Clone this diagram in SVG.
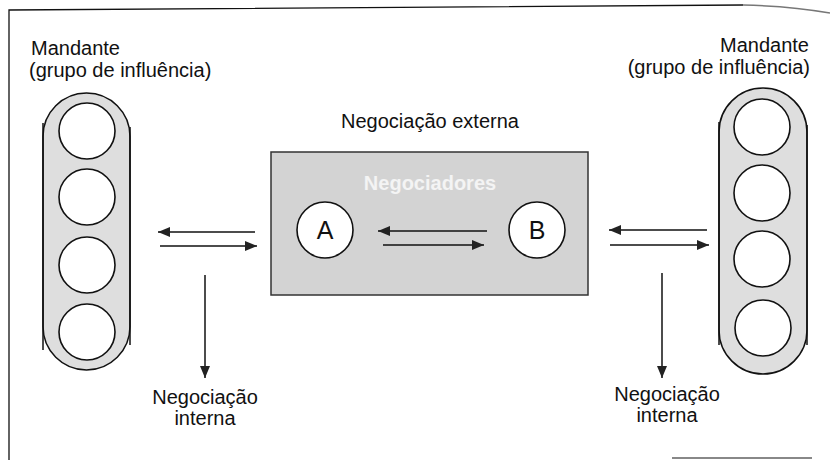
<svg xmlns="http://www.w3.org/2000/svg" width="830" height="460" viewBox="0 0 830 460">
  <defs>
    <marker id="ah" markerUnits="userSpaceOnUse" markerWidth="13" markerHeight="10" refX="12" refY="5" orient="auto">
      <path d="M0,0 L12,5 L0,10 Z" fill="#222"/>
    </marker>
  </defs>
  <style>
    text { font-family: "Liberation Sans", Arial, sans-serif; fill: #111; }
    .lbl { font-size: 20px; }
    .caps { fill: #dedede; stroke: #111; stroke-width: 1.5; }
    .side { stroke: #111; stroke-width: 1.5; }
    .ring { fill: #fff; stroke: #111; stroke-width: 1.6; }
    .box { fill: #d3d3d3; stroke: #333; stroke-width: 1.5; }
    .con { stroke: #111; stroke-width: 1.5; fill: none; marker-end: url(#ah); }
    .frame { stroke: #111; stroke-width: 1.3; fill: none; }
  </style>
  <rect width="830" height="460" fill="#fff"/>
  <g id="frame">
    <path class="frame" d="M9,460 L9,10 L743,5"/>
    <path d="M743,5 Q790,6 830,13" stroke="#777" stroke-width="1.5" fill="none"/>
    <path d="M672,458 L812,458" stroke="#888" stroke-width="2" fill="none"/>
  </g>

  <g id="mandante-left">
    <text class="lbl" x="31" y="55">Mandante</text>
    <text class="lbl" x="29" y="77">(grupo de influência)</text>
    <rect class="caps" x="43" y="93" width="87" height="277" rx="43.5"/>
    <line class="side" x1="43" y1="123" x2="43" y2="350"/>
    <line class="side" x1="130" y1="127" x2="130" y2="345"/>
    <circle class="ring" cx="87" cy="131" r="28"/>
    <circle class="ring" cx="87" cy="197" r="28"/>
    <circle class="ring" cx="87" cy="265" r="28"/>
    <circle class="ring" cx="87" cy="332" r="28"/>
  </g>

  <g id="mandante-right">
    <text class="lbl" x="809" y="52" text-anchor="end">Mandante</text>
    <text class="lbl" x="810" y="74" text-anchor="end">(grupo de influência)</text>
    <rect class="caps" x="719" y="88" width="88" height="286" rx="44"/>
    <line class="side" x1="719" y1="122" x2="719" y2="345"/>
    <line class="side" x1="807" y1="125" x2="807" y2="345"/>
    <circle class="ring" cx="762" cy="127" r="28"/>
    <circle class="ring" cx="762" cy="193" r="28"/>
    <circle class="ring" cx="762" cy="259" r="28"/>
    <circle class="ring" cx="763" cy="328" r="28"/>
  </g>

  <g id="negociadores">
    <text class="lbl" x="430" y="128" text-anchor="middle" font-size="20.5">Negociação externa</text>
    <rect class="box" x="271" y="152" width="317" height="143"/>
    <text x="430" y="190" text-anchor="middle" font-size="20" font-weight="bold" style="fill:#f4f4f4">Negociadores</text>
  </g>

  <g id="node-a">
    <circle class="ring" cx="325" cy="230" r="28"/>
    <text x="325" y="239" text-anchor="middle" font-size="25">A</text>
  </g>
  <g id="node-b">
    <circle class="ring" cx="537" cy="230" r="28"/>
    <text x="537" y="239" text-anchor="middle" font-size="25">B</text>
  </g>

  <g id="label-interna-left">
    <text class="lbl" x="205" y="404" text-anchor="middle">Negociação</text>
    <text class="lbl" x="205" y="425" text-anchor="middle">interna</text>
  </g>
  <g id="label-interna-right">
    <text class="lbl" x="667" y="401" text-anchor="middle">Negociação</text>
    <text class="lbl" x="667" y="422" text-anchor="middle">interna</text>
  </g>

  <g id="connectors">
    <line class="con" x1="255" y1="232" x2="158" y2="232"/>
    <line class="con" x1="160" y1="246" x2="257" y2="246"/>
    <line class="con" x1="205" y1="275" x2="205" y2="378"/>
    <line class="con" x1="487" y1="231" x2="378" y2="231"/>
    <line class="con" x1="383" y1="245" x2="484" y2="245"/>
    <line class="con" x1="707" y1="230" x2="609" y2="230"/>
    <line class="con" x1="610" y1="245" x2="709" y2="245"/>
    <line class="con" x1="662" y1="273" x2="662" y2="378"/>
  </g>
</svg>
